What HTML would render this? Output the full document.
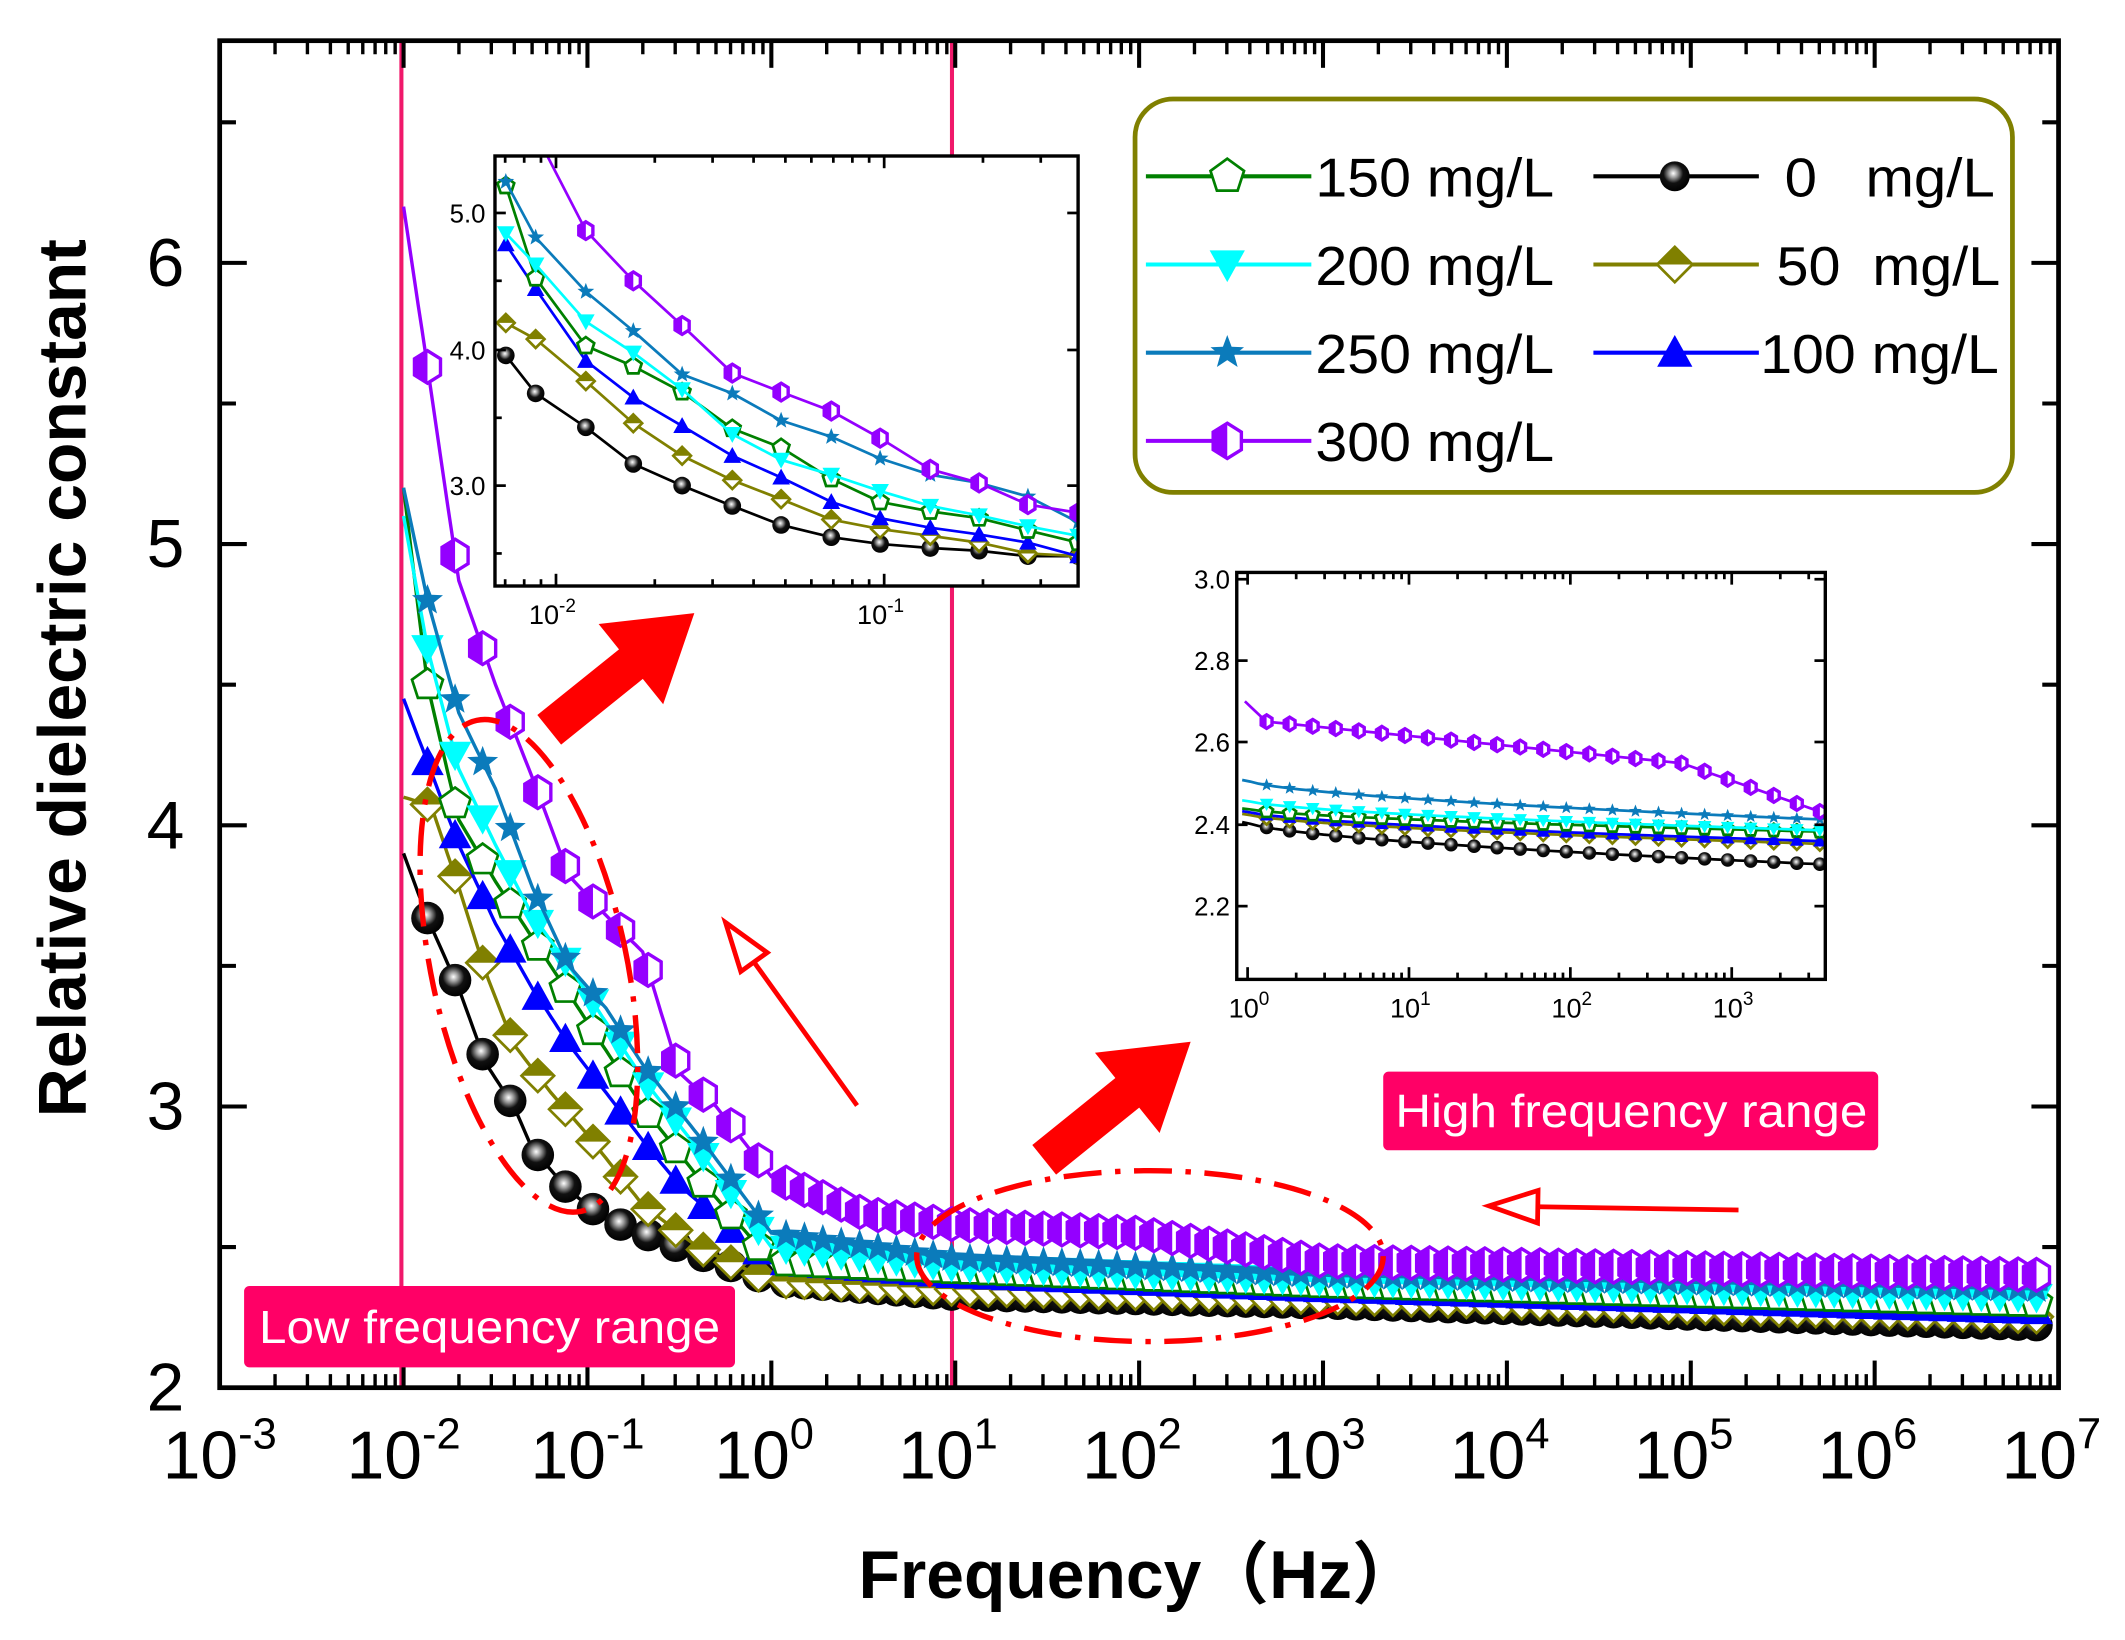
<!DOCTYPE html>
<html><head><meta charset="utf-8"><style>html,body{margin:0;padding:0;background:#fff}svg{display:block}</style></head>
<body>
<svg id="s" width="2125" height="1640" viewBox="0 0 1567 1209" preserveAspectRatio="none" xmlns="http://www.w3.org/2000/svg" font-family="Liberation Sans, sans-serif">
<defs>
<radialGradient id="ball" cx="0.45" cy="0.4" r="0.6"><stop offset="0" stop-color="#fff"/><stop offset="0.25" stop-color="#999"/><stop offset="0.55" stop-color="#111"/><stop offset="1" stop-color="#000"/></radialGradient>
</defs>
<g id="g"></g>
</svg>
<script>
const NS="http://www.w3.org/2000/svg";const G=document.getElementById('g');
function el(t,a,p){const e=document.createElementNS(NS,t);for(const k in a)e.setAttribute(k,a[k]);(p||G).appendChild(e);return e;}
function txt(x,y,s,a){const e=el('text',Object.assign({x:x,y:y},a));e.textContent=s;return e;}
const L=162,R=1518,T=30,B=1023;
const X=lf=>L+(lf+3)*135.6, Y=v=>B-(v-2)*207.3;
el('line',{x1:296,y1:T,x2:296,y2:B,stroke:'#f0186a','stroke-width':3});
el('line',{x1:702,y1:T,x2:702,y2:B,stroke:'#f0186a','stroke-width':3});
function marker(p,type,x,y,s,col){
  const h=s/2;
  if(type=='ball'){el('circle',{cx:x,cy:y,r:h,fill:'url(#ball)'},p);}
  else if(type=='dia'){el('polygon',{points:`${x},${y-h} ${x+h},${y} ${x},${y+h} ${x-h},${y}`,fill:'#fff',stroke:col,'stroke-width':2},p);
    el('polygon',{points:`${x},${y-h} ${x+h},${y} ${x-h},${y}`,fill:col},p);}
  else if(type=='tri'){el('polygon',{points:`${x},${y-h} ${x+h},${y+h*0.8} ${x-h},${y+h*0.8}`,fill:col},p);}
  else if(type=='tri2'){el('polygon',{points:`${x},${y+h} ${x+h},${y-h*0.8} ${x-h},${y-h*0.8}`,fill:col},p);}
  else if(type=='pent'){let pts=[];for(let i=0;i<5;i++){const a=-Math.PI/2+i*2*Math.PI/5;pts.push((x+h*Math.cos(a))+','+(y+h*Math.sin(a)));}
    el('polygon',{points:pts.join(' '),fill:'#fff',stroke:col,'stroke-width':2},p);}
  else if(type=='star'){let pts=[];for(let i=0;i<10;i++){const a=-Math.PI/2+i*Math.PI/5,r=i%2?h*0.42:h;pts.push((x+r*Math.cos(a))+','+(y+r*Math.sin(a)));}
    el('polygon',{points:pts.join(' '),fill:col},p);}
  else if(type=='hex'){const w=h*0.8;const pts=`${x},${y-h} ${x+w},${y-h/2} ${x+w},${y+h/2} ${x},${y+h} ${x-w},${y+h/2} ${x-w},${y-h/2}`;
    el('polygon',{points:pts,fill:'#fff',stroke:col,'stroke-width':2.5},p);
    el('polygon',{points:`${x},${y-h} ${x},${y+h} ${x-w},${y+h/2} ${x-w},${y-h/2}`,fill:col},p);}
}
const S=[
 {c:'#000',m:'ball',k:[[-2,3.9],[-1.87,3.67],[-1.7,3.42],[-1.55,3.15],[-1.4,3.0],[-1.3,2.85],[-1.1,2.7],[-0.9,2.6],[-0.7,2.55],[-0.5,2.5],[0,2.38],[1,2.33],[3,2.3],[7,2.22]]},
 {c:'#808000',m:'dia',k:[[-2,4.1],[-1.85,4.07],[-1.7,3.78],[-1.55,3.47],[-1.4,3.22],[-1.2,3.05],[-1,2.9],[-0.7,2.65],[-0.4,2.5],[0,2.38],[1,2.35],[3,2.32],[7,2.25]]},
 {c:'#0000ff',m:'tri',k:[[-2,4.45],[-1.7,3.93],[-1.5,3.65],[-1.3,3.42],[-1.1,3.22],[-0.9,3.05],[-0.7,2.88],[-0.5,2.72],[-0.2,2.55],[0,2.45],[1,2.4],[3,2.35],[7,2.27]]},
 {c:'#008000',m:'pent',k:[[-2,5.2],[-1.87,4.5],[-1.7,4.02],[-1.5,3.8],[-1.3,3.6],[-1.1,3.4],[-0.9,3.2],[-0.7,3.0],[-0.4,2.75],[0,2.45],[1,2.42],[3,2.37],[7,2.3]]},
 {c:'#00ffff',m:'tri2',k:[[-2,5.1],[-1.87,4.63],[-1.7,4.2],[-1.5,3.93],[-1.3,3.68],[-1.1,3.5],[-0.9,3.3],[-0.7,3.1],[-0.4,2.85],[0,2.5],[1,2.43],[3,2.38],[7,2.32]]},
 {c:'#0b7bbb',m:'star',k:[[-2,5.2],[-1.87,4.8],[-1.7,4.4],[-1.5,4.13],[-1.3,3.78],[-1.1,3.5],[-0.9,3.35],[-0.7,3.15],[-0.4,2.9],[0,2.55],[1,2.46],[3,2.4],[7,2.35]]},
 {c:'#9400ff',m:'hex',k:[[-2,6.2],[-1.87,5.63],[-1.7,4.87],[-1.5,4.5],[-1.3,4.17],[-1.1,3.82],[-0.9,3.68],[-0.7,3.55],[-0.5,3.12],[-0.3,3.0],[0,2.75],[0.5,2.62],[1,2.58],[2,2.55],[3,2.45],[7,2.4]]}
];
function interp(k,x){for(let i=0;i<k.length-1;i++){if(x>=k[i][0]&&x<=k[i+1][0]){const t=(x-k[i][0])/(k[i+1][0]-k[i][0]);return k[i][1]+t*(k[i+1][1]-k[i][1]);}}return k[k.length-1][1];}
S.forEach(s=>{
  let d='';for(let lf=-2;lf<=6.95;lf+=0.02){d+=(d?'L':'M')+X(lf).toFixed(1)+','+Y(interp(s.k,lf)).toFixed(1);}
  el('path',{d:d,fill:'none',stroke:s.c,'stroke-width':2.5});
  for(let lf=-1.87;lf<=6.95;lf+=(lf<0?0.15:0.1)){marker(G,s.m,X(lf),Y(interp(s.k,lf)),24,s.c);}
});
el('rect',{x:L,y:T,width:R-L,height:B-T,fill:'none',stroke:'#000','stroke-width':3.5});
for(let d=-3;d<=7;d++){const x=X(d);
  el('line',{x1:x,y1:B,x2:x,y2:B-20,stroke:'#000','stroke-width':3});el('line',{x1:x,y1:T,x2:x,y2:T+20,stroke:'#000','stroke-width':3});
  const t=txt(x-42,1090,'10',{'font-size':50});const sp=el('tspan',{dy:-22,'font-size':32});sp.textContent=String(d);t.appendChild(sp);
  if(d<7)for(let m=2;m<10;m++){const xm=X(d+Math.log10(m));el('line',{x1:xm,y1:B,x2:xm,y2:B-10,stroke:'#000','stroke-width':2.5});el('line',{x1:xm,y1:T,x2:xm,y2:T+10,stroke:'#000','stroke-width':2.5});}
}
for(let v=2;v<=6.75;v+=0.5){const y=Y(v),maj=Number.isInteger(v);const l=maj?20:12;
  el('line',{x1:L,y1:y,x2:L+l,y2:y,stroke:'#000','stroke-width':3});el('line',{x1:R,y1:y,x2:R-l,y2:y,stroke:'#000','stroke-width':3});
  if(maj)txt(122,y+17,String(v),{'font-size':50,'text-anchor':'middle'});}
txt(840,1178,'Frequency（Hz）',{'font-size':50,'font-weight':'bold','text-anchor':'middle','font-family':'Liberation Sans, Noto Sans CJK SC, sans-serif'});
txt(0,0,'Relative dielectric constant',{'font-size':50,'font-weight':'bold','text-anchor':'middle',transform:'translate(63,500) rotate(-90)'});
el('rect',{x:837,y:73,width:647,height:290,rx:28,fill:'#fff',stroke:'#808000','stroke-width':3.5});
const leg=[[0,130,3,'150 mg/L'],[0,195,4,'200 mg/L'],[0,260,5,'250 mg/L'],[0,325,6,'300 mg/L'],[1,130,0,'0   mg/L'],[1,195,1,'50  mg/L'],[1,260,2,'100 mg/L']];
leg.forEach(([c,y,i,s])=>{const x0=c?1175:845,xm=c?1235:905;const sr=S[i];
  el('line',{x1:x0,y1:y,x2:x0+122,y2:y,stroke:sr.c,'stroke-width':3});marker(G,sr.m,xm,y,sr.m=='ball'?22:26,sr.c);
  const x=c?(i==0?1316:i==1?1310:1298):970;
  const t=txt(x,y+15,s,{'font-size':40,style:'white-space:pre'});
  t.setAttribute('textLength',c?(i==0?155:i==1?165:176):176);t.setAttribute('lengthAdjust','spacingAndGlyphs');});
el('rect',{x:180,y:948,width:362,height:60,rx:4,fill:'#ff0066'});
txt(361,990,'Low frequency range',{'font-size':34,fill:'#fff','text-anchor':'middle',textLength:340,lengthAdjust:'spacingAndGlyphs'});
el('rect',{x:1020,y:790,width:365,height:58,rx:4,fill:'#ff0066'});
txt(1203,831,'High frequency range',{'font-size':34,fill:'#fff','text-anchor':'middle',textLength:348,lengthAdjust:'spacingAndGlyphs'});
el('ellipse',{cx:390,cy:712,rx:72,ry:185,transform:'rotate(-12 390 712)',fill:'none',stroke:'#f00','stroke-width':4,'stroke-dasharray':'28 10 4 10'});
el('ellipse',{cx:848,cy:926,rx:172,ry:63,fill:'none',stroke:'#f00','stroke-width':4,'stroke-dasharray':'28 10 4 10'});
function big(x1,y1,x2,y2){const a=Math.atan2(y2-y1,x2-x1),c=Math.cos(a),s=Math.sin(a),w=14,hw=38,hl=60;
  const bx=x2-hl*c,by=y2-hl*s;const p=(u,v)=>[u,v].join(',');
  el('polygon',{points:[p(x1-w*s,y1+w*c),p(bx-w*s,by+w*c),p(bx-hw*s,by+hw*c),p(x2,y2),p(bx+hw*s,by-hw*c),p(bx+w*s,by-w*c),p(x1+w*s,y1-w*c)].join(' '),fill:'#ff0000'});}
big(405,538,512,452);big(770,855,878,768);
function thin(x1,y1,x2,y2){const a=Math.atan2(y2-y1,x2-x1),c=Math.cos(a),s=Math.sin(a),hw=12,hl=36;const bx=x2-hl*c,by=y2-hl*s;
  el('line',{x1:x1,y1:y1,x2:bx,y2:by,stroke:'#f00','stroke-width':3.5});
  el('polygon',{points:`${x2},${y2} ${bx-hw*s},${by+hw*c} ${bx+hw*s},${by-hw*c}`,fill:'#fff',stroke:'#f00','stroke-width':3.5});}
thin(632,815,535,680);thin(1282,892,1098,889);
el('rect',{x:365,y:115,width:430,height:317,fill:'#fff'});
const I1x=[373,395,432,467,503,540,576,613,649,686,722,758,795];
const I1=[
 [0,[262,290,315,342,358,373,387,396,401,404,406,410,410]],
 [1,[238,250,281,312,336,354,368,383,390,395,400,408,410]],
 [2,[180,213,266,293,314,336,352,370,382,389,394,400,410]],
 [3,[137,205,255,270,289,316,330,353,370,377,382,391,400]],
 [4,[172,195,237,260,287,320,339,350,362,373,380,388,395]],
 [5,[134,175,215,244,276,290,310,322,338,350,356,366,385]],
];
const cl=el('clipPath',{id:'c1'});el('rect',{x:365,y:115,width:430,height:317},cl);
const g1=el('g',{'clip-path':'url(#c1)'});
I1.forEach(([i,ys])=>{const s=S[i];el('polyline',{points:ys.map((y,j)=>I1x[j]+','+y).join(' '),fill:'none',stroke:s.c,'stroke-width':2},g1);
  ys.forEach((y,j)=>marker(g1,s.m,I1x[j],y,13,s.c));});
const p300=[[400,108],[432,170],[467,207],[503,240],[540,275],[576,289],[613,303],[649,323],[686,346],[722,356],[758,372],[795,378]];
el('polyline',{points:p300.map(p=>p.join(',')).join(' '),fill:'none',stroke:S[6].c,'stroke-width':2},g1);
p300.slice(1).forEach(p=>marker(g1,'hex',p[0],p[1],13,S[6].c));
el('rect',{x:365,y:115,width:430,height:317,fill:'none',stroke:'#000','stroke-width':2.5});
[[157,'5.0'],[258,'4.0'],[358,'3.0']].forEach(([y,s])=>{txt(358,y+7,s,{'font-size':19,'text-anchor':'end'});el('line',{x1:365,y1:y,x2:373,y2:y,stroke:'#000','stroke-width':2});el('line',{x1:795,y1:y,x2:787,y2:y,stroke:'#000','stroke-width':2});});
[207,308,408].forEach(y=>{el('line',{x1:365,y1:y,x2:370,y2:y,stroke:'#000','stroke-width':2});});
for(let d=-3;d<=-1;d++)for(let m=1;m<10;m++){const x=410+(d+2+Math.log10(m))*242;if(x<366||x>794)continue;const l=m==1?9:5;
  el('line',{x1:x,y1:432,x2:x,y2:432-l,stroke:'#000','stroke-width':2});el('line',{x1:x,y1:115,x2:x,y2:115+l,stroke:'#000','stroke-width':2});}
[[410,'-2'],[652,'-1']].forEach(([x,e])=>{const t=txt(x-20,460,'10',{'font-size':20});const sp=el('tspan',{dy:-9,'font-size':14});sp.textContent=e;t.appendChild(sp);});
el('rect',{x:912,y:422,width:434,height:300,fill:'#fff'});
const cl2=el('clipPath',{id:'c2'});el('rect',{x:912,y:422,width:434,height:300},cl2);
const g2=el('g',{'clip-path':'url(#c2)'});
const I2=[[0,606,637],[1,600,622],[2,598,620],[3,596,613],[4,590,612],[5,575,604]];
function c2(y0,y1,x){const t=Math.max(0,(x-920)/420);return y0+(y1-y0)*Math.pow(t,0.6);}
I2.forEach(([i,y0,y1])=>{const s=S[i];let pts=[];for(let x=916;x<=1346;x+=6)pts.push(x+','+c2(y0,y1,x).toFixed(1));
  el('polyline',{points:pts.join(' '),fill:'none',stroke:s.c,'stroke-width':2},g2);
  for(let x=934;x<=1346;x+=17)marker(g2,s.m,x,c2(y0,y1,x),10,s.c);});
{const s=S[6];const f=x=>x<934?517+(x-918)*0.95:532+(x-934)*0.1+Math.max(0,x-1240)*0.25;
 let pts=[];for(let x=918;x<=1346;x+=4)pts.push(x+','+f(x).toFixed(1));el('polyline',{points:pts.join(' '),fill:'none',stroke:s.c,'stroke-width':2},g2);
 for(let x=934;x<=1346;x+=17)marker(g2,'hex',x,f(x),10,s.c);}
el('rect',{x:912,y:422,width:434,height:300,fill:'none',stroke:'#000','stroke-width':2.5});
[[427,'3.0'],[487,'2.8'],[547,'2.6'],[608,'2.4'],[668,'2.2']].forEach(([y,s])=>{txt(907,y+7,s,{'font-size':19,'text-anchor':'end'});el('line',{x1:912,y1:y,x2:920,y2:y,stroke:'#000','stroke-width':2});el('line',{x1:1346,y1:y,x2:1338,y2:y,stroke:'#000','stroke-width':2});});
for(let d=0;d<=3;d++)for(let m=1;m<10;m++){const x=920+(d+Math.log10(m))*119;if(x>1345)continue;const l=m==1?9:5;
  el('line',{x1:x,y1:722,x2:x,y2:722-l,stroke:'#000','stroke-width':2});el('line',{x1:x,y1:422,x2:x,y2:422+l,stroke:'#000','stroke-width':2});}
[0,1,2,3].forEach(d=>{const x=920+d*119;const t=txt(x-14,750,'10',{'font-size':20});const sp=el('tspan',{dy:-9,'font-size':14});sp.textContent=d;t.appendChild(sp);});
</script>
</body></html>
